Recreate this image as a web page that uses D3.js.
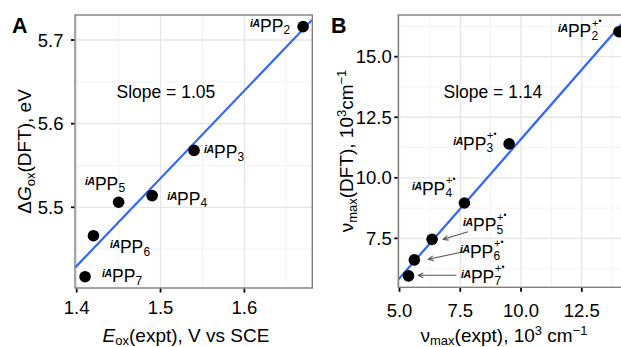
<!DOCTYPE html>
<html><head><meta charset="utf-8">
<script src="https://cdn.jsdelivr.net/npm/d3@7"></script>
<style>
body{margin:0;background:#fff}
svg{display:block}
text{font-family:"Liberation Sans",Arial,Helvetica,sans-serif;fill:#000}
</style>
</head><body>
<svg id="chart" width="621" height="347"></svg>
<script>
// ---------------- data ----------------
const compounds = ["2","3","4","5","6","7"];
const eoxExpt  = [1.67, 1.54, 1.49, 1.45, 1.42, 1.41];        // V vs SCE
const dGoxDFT  = [5.716, 5.568, 5.514, 5.506, 5.466, 5.417];  // eV
const numaxExpt = [14.03, 9.51, 7.67, 6.34, 5.61, 5.37];      // 10^3 cm^-1
const numaxDFT  = [16.03, 11.40, 8.96, 7.46, 6.61, 5.95];     // 10^3 cm^-1
const ticksAx = [1.4, 1.5, 1.6];
const ticksAy = [5.5, 5.6, 5.7];
const ticksBx = [5.0, 7.5, 10.0, 12.5];
const ticksBy = [7.5, 10.0, 12.5, 15.0];
const slopeTextA = "Slope = 1.05";
const slopeTextB = "Slope = 1.14";

// ---------------- layout ----------------
const panels = [
  {id:"A", xs:eoxExpt, ys:dGoxDFT, x0:75, x1:312.3, y0:15, y1:288,
   xdom:[1.398,1.681], ydom:[5.4035,5.7299], xt:ticksAx, yt:ticksAy,
   xfmt:d3.format(".1f"), yfmt:d3.format(".1f"),
   ytickRight:11.5, xtickBase:314, cation:false, slope:slopeTextA, slopePos:[116.5,98],
   letterPos:[12,33],
   labelOff:[[-53,5],[10,7.6],[15,9.4],[-33.6,-12.3],[16.6,17.3],[17,5.3]],
   arrows:[]},
  {id:"B", xs:numaxExpt, ys:numaxDFT, x0:398.3, x1:629.2, y0:15, y1:287.3,
   xdom:[4.95,14.45], ydom:[5.48,16.72], xt:ticksBx, yt:ticksBy,
   xfmt:d3.format(".1f"), yfmt:d3.format(".1f"),
   ytickRight:6.5, xtickBase:317, cation:true, slope:slopeTextB, slopePos:[443.5,98],
   letterPos:[331,33],
   labelOff:[[-61,5.3],[-56,6],[-52.4,-8],[31,-8.3],[45.7,-2],[52.5,7]],
   arrows:[null,null,null,[[36,-7.6],[11.2,0]],[[49,-8.2],[14,-0.6]],[[48,-0.6],[9.8,-0.6]]]}
];

const svg = d3.select("#chart");
svg.append("rect").attr("width",621).attr("height",347).attr("fill","#fff");
const defs = svg.append("defs");

function minors(t, dom){
  const step = t[1]-t[0];
  const out = [];
  for (let v = t[0]-step/2; v <= dom[1]; v += step) if (v >= dom[0]) out.push(v);
  return out;
}

function drawLabel(g, x, y, sub, cation){
  const iA = g.append("text").attr("x",x).attr("y",y-5)
    .attr("font-size",10.5).attr("font-weight","bold").attr("font-style","italic")
    .attr("letter-spacing",-0.4).text("iA");
  const w1 = iA.node().getComputedTextLength();
  const pp = g.append("text").attr("x",x+w1+0.2).attr("y",y).attr("font-size",17.5).text("PP");
  const w2 = pp.node().getComputedTextLength();
  const sx = x+w1+0.2+w2+0.2;
  g.append("text").attr("x",sx).attr("y",y+2.5).attr("font-size",12).text(sub);
  if (cation){
    const s = g.append("text").attr("x",sx+0.5).attr("y",y-10.5).attr("font-size",11);
    s.append("tspan").text("+");
    s.append("tspan").attr("dy",-2.5).attr("font-size",8.5).text("•");
  }
}

panels.forEach((p, pi) => {
  const x = d3.scaleLinear().domain(p.xdom).range([p.x0,p.x1]);
  const y = d3.scaleLinear().domain(p.ydom).range([p.y1,p.y0]);
  const g = svg.append("g");
  const clipId = "clip"+p.id;
  defs.append("clipPath").attr("id",clipId).append("rect")
    .attr("x",p.x0).attr("y",p.y0).attr("width",p.x1-p.x0).attr("height",p.y1-p.y0);

  // grid
  const grid = g.append("g");
  grid.selectAll(".mx").data(minors(p.xt,p.xdom)).join("line")
    .attr("x1",d=>x(d)).attr("x2",d=>x(d)).attr("y1",p.y0).attr("y2",p.y1)
    .attr("stroke","#f3f3f3").attr("stroke-width",1);
  grid.selectAll(".my").data(minors(p.yt,p.ydom)).join("line")
    .attr("y1",d=>y(d)).attr("y2",d=>y(d)).attr("x1",p.x0).attr("x2",p.x1)
    .attr("stroke","#f3f3f3").attr("stroke-width",1);
  grid.selectAll(".Mx").data(p.xt).join("line")
    .attr("x1",d=>x(d)).attr("x2",d=>x(d)).attr("y1",p.y0).attr("y2",p.y1)
    .attr("stroke","#e6e6e6").attr("stroke-width",1.3);
  grid.selectAll(".My").data(p.yt).join("line")
    .attr("y1",d=>y(d)).attr("y2",d=>y(d)).attr("x1",p.x0).attr("x2",p.x1)
    .attr("stroke","#e6e6e6").attr("stroke-width",1.3);

  // regression line (least squares)
  const mx = d3.mean(p.xs), my = d3.mean(p.ys);
  const sxy = d3.sum(p.xs.map((v,i)=>(v-mx)*(p.ys[i]-my)));
  const sxx = d3.sum(p.xs.map(v=>(v-mx)*(v-mx)));
  const b = sxy/sxx, a = my - b*mx;
  g.append("path").attr("clip-path",`url(#${clipId})`)
    .attr("d", d3.line().x(d=>x(d)).y(d=>y(a+b*d))(p.xdom))
    .attr("fill","none").attr("stroke","#3366FF").attr("stroke-width",2.2);

  // arrows
  p.arrows.forEach((ar,i)=>{
    if(!ar) return;
    const px = x(p.xs[i]), py = y(p.ys[i]);
    const sx = px+ar[0][0], sy = py+ar[0][1], ex = px+ar[1][0], ey = py+ar[1][1];
    const ang = Math.atan2(ey-sy, ex-sx), L = 5.5, sp = Math.PI/7;
    g.append("path")
      .attr("d",`M${sx},${sy}L${ex},${ey}M${ex-L*Math.cos(ang-sp)},${ey-L*Math.sin(ang-sp)}L${ex},${ey}L${ex-L*Math.cos(ang+sp)},${ey-L*Math.sin(ang+sp)}`)
      .attr("fill","none").attr("stroke","#555").attr("stroke-width",1.1);
  });

  // points
  g.append("g").attr("clip-path",`url(#${clipId})`).selectAll("circle").data(p.xs).join("circle")
    .attr("cx",d=>x(d)).attr("cy",(d,i)=>y(p.ys[i])).attr("r",5.8).attr("fill","#000");

  // point labels
  compounds.forEach((c,i)=>{
    drawLabel(g, x(p.xs[i])+p.labelOff[i][0], y(p.ys[i])+p.labelOff[i][1], c, p.cation);
  });

  // slope text
  g.append("text").attr("x",p.slopePos[0]).attr("y",p.slopePos[1]).attr("font-size",17.5).text(p.slope);

  // panel border
  g.append("rect").attr("x",p.x0).attr("y",p.y0).attr("width",p.x1-p.x0).attr("height",p.y1-p.y0)
    .attr("fill","none").attr("stroke","#7f7f7f").attr("stroke-width",1.4);

  // ticks
  g.selectAll(".tx").data(p.xt).join("line")
    .attr("x1",d=>x(d)).attr("x2",d=>x(d)).attr("y1",p.y1+0.7).attr("y2",p.y1+4.5)
    .attr("stroke","#000").attr("stroke-width",1.8);
  g.selectAll(".ty").data(p.yt).join("line")
    .attr("y1",d=>y(d)).attr("y2",d=>y(d)).attr("x1",p.x0-0.7).attr("x2",p.x0-4)
    .attr("stroke","#000").attr("stroke-width",1.8);
  g.selectAll(".lx").data(p.xt).join("text")
    .attr("x",d=>x(d)).attr("y",p.xtickBase).attr("text-anchor","middle").attr("font-size",18.5)
    .text(d=>p.xfmt(d));
  g.selectAll(".ly").data(p.yt).join("text")
    .attr("x",p.x0-p.ytickRight).attr("y",d=>y(d)).attr("dy","0.36em").attr("text-anchor","end")
    .attr("font-size",18.5).text(d=>p.yfmt(d));

  // panel letter
  g.append("text").attr("x",p.letterPos[0]).attr("y",p.letterPos[1])
    .attr("font-size",21.5).attr("font-weight","bold").text(p.id);
});

// ---------------- axis titles ----------------
function title(t, parts){
  parts.forEach(pt=>{
    const s = t.append("tspan").text(pt.t);
    if (pt.it) s.attr("font-style","italic");
    if (pt.fs) s.attr("font-size",pt.fs);
    if (pt.dy) s.attr("dy",pt.dy);
  });
}
const tAx = svg.append("text").attr("x",186).attr("y",342).attr("text-anchor","middle").attr("font-size",19);
title(tAx,[{t:"E",it:true},{t:"ox",fs:13,dy:3},{t:"(expt), V vs SCE",dy:-3}]);

const tBx = svg.append("text").attr("x",504).attr("y",342).attr("text-anchor","middle").attr("font-size",19);
title(tBx,[{t:"ν"},{t:"max",fs:13,dy:3},{t:"(expt), 10",dy:-3},{t:"3",fs:13,dy:-7},{t:" cm",dy:7},{t:"−1",fs:13,dy:-7}]);

const tAy = svg.append("text").attr("transform","translate(31,151.5) rotate(-90)")
  .attr("text-anchor","middle").attr("font-size",19);
title(tAy,[{t:"Δ"},{t:"G",it:true},{t:"ox",fs:13,dy:4},{t:"(DFT), eV",dy:-4}]);

const tBy = svg.append("text").attr("transform","translate(353,151) rotate(-90)")
  .attr("text-anchor","middle").attr("font-size",19);
title(tBy,[{t:"ν"},{t:"max",fs:13,dy:4},{t:"(DFT), 10",dy:-4},{t:"3",fs:13,dy:-7},{t:"cm",dy:7},{t:"−1",fs:13,dy:-7}]);
</script>
</body></html>
